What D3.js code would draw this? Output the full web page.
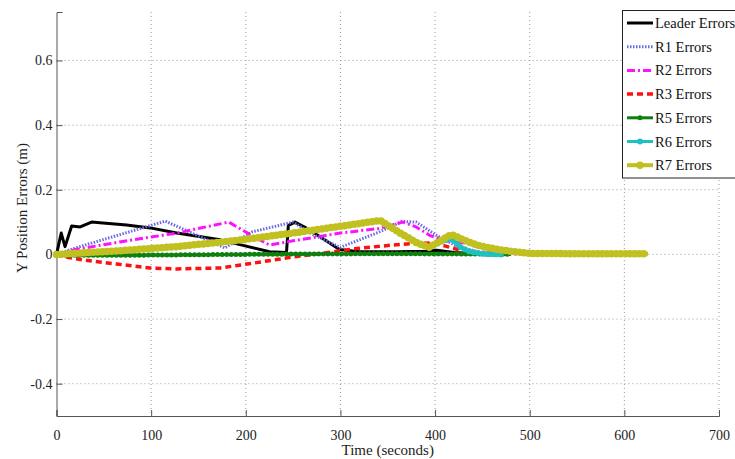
<!DOCTYPE html>
<html>
<head>
<meta charset="utf-8">
<script src="https://cdn.jsdelivr.net/npm/d3@7"></script>
<style>
  body { margin: 0; background: #fff; }
  svg text { font-family: "Liberation Serif", "DejaVu Serif", serif; }
</style>
</head>
<body>
<svg id="chart" width="735" height="459"></svg>
<script>
// values: [time (s), error (m)]
var leaderErr = [[0,0],[5,0.066],[9,0.024],[16,0.088],[25,0.085],[37,0.10],[49,0.097],[74,0.091],[99,0.082],[127,0.066],
  [173,0.045],[225,0.008],[243,0.006],[245,0.09],[252,0.10],[268,0.075],[299,0.015],[320,0.008],[360,0.008],[390,0.01],
  [402,0.013],[420,0.006],[450,0.002],[480,0]];
var r1Err = [[0,0],[20,0.02],[60,0.055],[115,0.103],[140,0.07],[178,0.02],[207,0.07],[250,0.10],[272,0.06],[300,0.022],
  [340,0.068],[365,0.102],[380,0.1],[401,0.06],[423,0.025],[450,0.005],[480,0]];
var r2Err = [[0,0],[20,0.015],[70,0.04],[127,0.066],[182,0.10],[202,0.066],[225,0.029],[250,0.042],[300,0.066],
  [340,0.08],[366,0.10],[380,0.085],[395,0.058],[415,0.04],[433,0.035],[450,0.018],[470,0.004],[490,0]];
var r3Err = [[0,0],[10,-0.008],[30,-0.018],[64,-0.03],[99,-0.042],[127,-0.045],[173,-0.042],[208,-0.027],[250,-0.008],
  [282,0.004],[317,0.018],[352,0.028],[375,0.033],[398,0.036],[412,0.025],[425,0.014],[440,0.005],[460,0]];
var r5Err = [[0,-0.003],[60,-0.003],[150,-0.001],[250,0.001],[350,0.002],[450,0.001],[480,0]];
var r6Err = [[0,0],[60,0.01],[127,0.024],[190,0.043],[247,0.065],[300,0.087],[342,0.105],[363,0.066],[382,0.034],
  [394,0.022],[405,0.038],[417,0.05],[426,0.024],[437,0.008],[450,0.002],[470,0]];
var r7Err = [[0,0],[60,0.01],[127,0.024],[190,0.043],[247,0.065],[300,0.087],[342,0.105],[363,0.066],[382,0.034],
  [394,0.022],[405,0.04],[417,0.062],[430,0.045],[444,0.029],[468,0.014],[500,0.003],[560,0.002],[625,0.002]];

var xTicks = [0, 100, 200, 300, 400, 500, 600, 700];
var yTicks = [-0.4, -0.2, 0, 0.2, 0.4, 0.6];

var seriesNames = ["Leader Errors", "R1 Errors", "R2 Errors", "R3 Errors", "R5 Errors", "R6 Errors", "R7 Errors"];
var seriesData = [leaderErr, r1Err, r2Err, r3Err, r5Err, r6Err, r7Err];

var styles = [
  {color: "#000000", width: 3, dash: null},
  {color: "#6a6ae0", width: 3, dash: "1.5,1.5"},
  {color: "#ff10ff", width: 3, dash: "8,3,2,3"},
  {color: "#ff1010", width: 3.5, dash: "6,4"},
  {color: "#0f800f", width: 3, dash: null, dots: 5},
  {color: "#20c0c0", width: 3, dash: null, dots: 6},
  {color: "#c0c020", width: 4, dash: null, dots: 7.5}
];

var FONT = "Liberation Serif, DejaVu Serif, serif";

var svg = d3.select("#chart");
var x = d3.scaleLinear().domain([0, 700]).range([56.5, 719]);
var y = d3.scaleLinear().domain([-0.5, 0.75]).range([416, 12]);

// grid
var grid = svg.append("g");
grid.selectAll(".gx").data(xTicks.slice(1)).enter().append("line")
  .attr("x1", function(d){ return x(d); }).attr("x2", function(d){ return x(d); })
  .attr("y1", y(0.75)).attr("y2", y(-0.5))
  .attr("stroke", "#9a9a9a").attr("stroke-width", 1).attr("stroke-dasharray", "1,3");
grid.selectAll(".gy").data(yTicks).enter().append("line")
  .attr("x1", x(0)).attr("x2", x(700))
  .attr("y1", function(d){ return y(d); }).attr("y2", function(d){ return y(d); })
  .attr("stroke", "#9a9a9a").attr("stroke-width", 1).attr("stroke-dasharray", "1,3");

// axes (ticks inward, matlab style)
var xAxis = svg.append("g").attr("transform", "translate(0," + y(-0.5) + ")")
  .call(d3.axisBottom(x).tickValues(xTicks).tickSize(-6).tickPadding(14).tickFormat(d3.format("d")));
var yAxis = svg.append("g").attr("transform", "translate(" + x(0) + ",0)")
  .call(d3.axisLeft(y).tickValues(yTicks).tickSize(-6).tickPadding(4)
    .tickFormat(function(d){ return d === 0 ? "0" : d.toFixed(1); }));
[xAxis, yAxis].forEach(function(a){
  a.attr("font-family", FONT);
  a.select(".domain").attr("stroke", "#555");
  a.selectAll(".tick line").attr("stroke", "#555");
  a.selectAll("text").attr("fill", "#222").attr("font-family", FONT).attr("font-size", 14);
});

// series
var line = d3.line().x(function(d){ return x(d[0]); }).y(function(d){ return y(d[1]); });
var plot = svg.append("g");
seriesData.forEach(function(data, i){
  var s = styles[i];
  plot.append("path").attr("d", line(data)).attr("fill", "none")
    .attr("stroke", s.color).attr("stroke-width", s.width)
    .attr("stroke-dasharray", s.dash).attr("stroke-linejoin", "round");
  if (s.dots) {
    plot.append("path").attr("d", line(data)).attr("fill", "none")
      .attr("stroke", s.color).attr("stroke-width", s.dots)
      .attr("stroke-linecap", "round").attr("stroke-dasharray", "0,4.6");
  }
});

// labels
svg.append("text").attr("x", x(350)).attr("y", 455).attr("text-anchor", "middle")
  .attr("font-family", FONT).attr("font-size", 15).attr("fill", "#222").text("Time (seconds)");
svg.append("text").attr("transform", "translate(27,208) rotate(-90)").attr("text-anchor", "middle")
  .attr("font-family", FONT).attr("font-size", 15).attr("fill", "#222").text("Y Position Errors (m)");

// legend
var legend = svg.append("g");
legend.append("rect").attr("x", 622.5).attr("y", 10.5).attr("width", 130).attr("height", 167.5)
  .attr("fill", "#fff").attr("stroke", "#222").attr("stroke-width", 1);
seriesNames.forEach(function(name, i){
  var s = styles[i];
  var cy = 23 + i * 23.7;
  legend.append("line").attr("x1", 627).attr("x2", 653).attr("y1", cy).attr("y2", cy)
    .attr("stroke", s.color).attr("stroke-width", s.width).attr("stroke-dasharray", s.dash);
  if (s.dots) {
    legend.append("circle").attr("cx", 640).attr("cy", cy).attr("r", s.dots / 2).attr("fill", s.color);
  }
  legend.append("text").attr("x", 655).attr("y", cy + 5).attr("font-family", FONT)
    .attr("font-size", 14.5).attr("fill", "#111").text(name);
});
</script>
</body>
</html>
